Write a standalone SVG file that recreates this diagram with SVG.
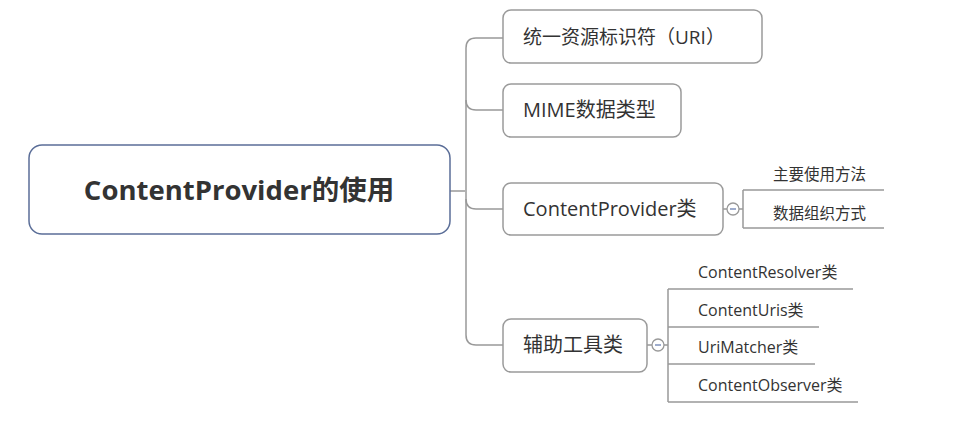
<svg xmlns="http://www.w3.org/2000/svg" width="977" height="426" viewBox="0 0 977 426">
<style>
.t{font-family:"Open Sans","Noto Sans CJK SC",sans-serif;fill:#333;}
.box{fill:#fff;stroke:#9a9a9a;stroke-width:1.5;}
.root{fill:#fff;stroke:#5b6e98;stroke-width:1.5;}
.ln{fill:none;stroke:#999;stroke-width:1.5;}
.c{fill:#fff;stroke:#999;stroke-width:1.3;}
.m{stroke:#6a7fb0;stroke-width:1.3;}
</style>
<rect width="977" height="426" fill="#fff"/>
<g id="connectors">
<path class="ln" d="M450 191H465"/>
<path class="ln" d="M503 38H476Q466 38 466 48V335Q466 345 476 345H503"/>
<path class="ln" d="M466 100Q466 110 476 110H503"/>
<path class="ln" d="M466 199Q466 209 476 209H503"/>
<path class="ln" d="M723 209H727M739 209H743M743 190V228M743 190H884M743 228H884"/>
<path class="ln" d="M647 345H652M664 345H668M668 289V402M668 289H853M668 327H819M668 364H815M668 402H858"/>
</g>
<g id="root">
<rect class="root" x="29" y="145" width="421" height="89" rx="13"/>
<text class="t" x="239" y="200" font-size="27.5" font-weight="bold" text-anchor="middle" fill="#444">ContentProvider的使用</text>
</g>
<g id="n1">
<rect class="box" x="503" y="10" width="259" height="53" rx="8"/>
<text class="t" x="523" y="44" font-size="19">统一资源标识符（URI）</text>
</g>
<g id="n2">
<rect class="box" x="503" y="84" width="178" height="53" rx="8"/>
<text class="t" x="523" y="117" font-size="20">MIME数据类型</text>
</g>
<g id="n3">
<rect class="box" x="503" y="183" width="220" height="52" rx="8"/>
<text class="t" x="523" y="216" font-size="20">ContentProvider类</text>
<circle class="c" cx="733" cy="209" r="6"/>
<path class="m" d="M730 209H736"/>
</g>
<g id="n3a"><text class="t" x="773" y="180" font-size="15.5">主要使用方法</text></g>
<g id="n3b"><text class="t" x="773" y="219" font-size="15.5">数据组织方式</text></g>
<g id="n4">
<rect class="box" x="503" y="319" width="144" height="53" rx="8"/>
<text class="t" x="523" y="352" font-size="20">辅助工具类</text>
<circle class="c" cx="658" cy="345" r="6"/>
<path class="m" d="M655 345H661"/>
</g>
<g id="n4a"><text class="t" x="698" y="278" font-size="16">ContentResolver类</text></g>
<g id="n4b"><text class="t" x="698" y="316" font-size="16">ContentUris类</text></g>
<g id="n4c"><text class="t" x="698" y="353" font-size="16">UriMatcher类</text></g>
<g id="n4d"><text class="t" x="698" y="391" font-size="16">ContentObserver类</text></g>
</svg>
